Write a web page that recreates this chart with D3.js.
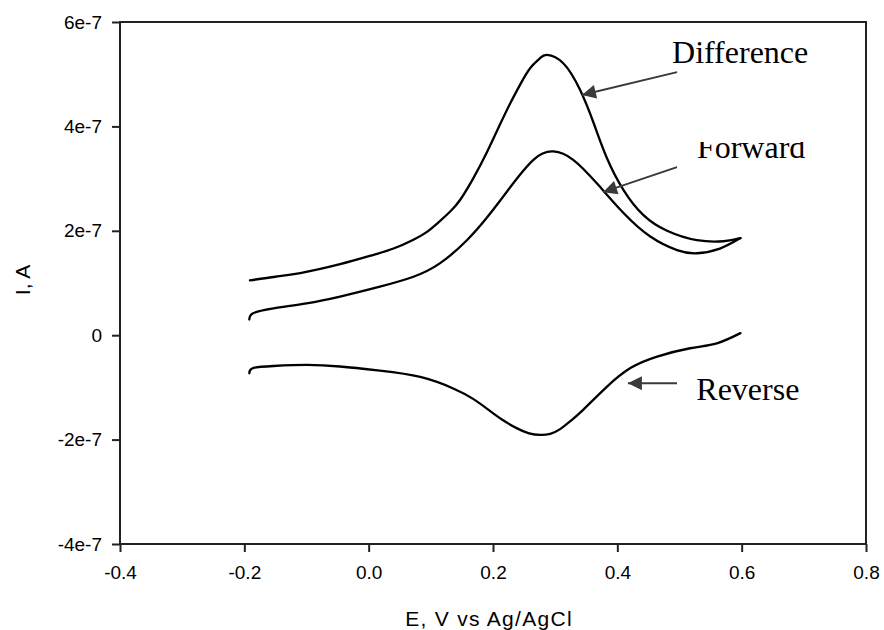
<!DOCTYPE html>
<html lang="en">
<head>
    <meta charset="UTF-8">
    <title>Cyclic voltammogram</title>
    <script src="https://d3js.org/d3.v7.min.js"></script>
    <style>
        body { margin: 0; background: #fff; }
        svg { display: block; }
        .tick-label { font-family: Arial, "Liberation Sans", sans-serif; font-size: 19px; fill: #000; }
        .axis-title { font-family: Arial, "Liberation Sans", sans-serif; font-size: 21px; fill: #000; }
        .note { font-family: "Times New Roman", "Liberation Serif", serif; font-size: 32px; fill: #000; }
    </style>
</head>
<body>
    <svg width="884" height="630"></svg>

    <script>
        // potentials (V vs Ag/AgCl) and currents (units of 1e-7 A)
        const diffE = [-0.191, -0.15, -0.11, -0.046, 0.008, 0.04, 0.072, 0.095, 0.115, 0.132, 0.147, 0.168, 0.19, 0.211, 0.228, 0.245, 0.26, 0.275, 0.287, 0.313, 0.34, 0.362, 0.383, 0.41, 0.442, 0.48, 0.528, 0.571, 0.598];
        const diffI = [1.05, 1.12, 1.19, 1.36, 1.54, 1.66, 1.83, 1.99, 2.19, 2.38, 2.59, 3.0, 3.5, 4.03, 4.45, 4.83, 5.12, 5.30, 5.37, 5.21, 4.70, 4.06, 3.40, 2.78, 2.30, 2.0, 1.82, 1.80, 1.86];

        const fwdE = [-0.192, -0.186, -0.153, -0.1, -0.046, 0.018, 0.072, 0.115, 0.158, 0.19, 0.211, 0.228, 0.265, 0.297, 0.329, 0.367, 0.41, 0.453, 0.496, 0.528, 0.565, 0.598];
        const fwdI = [0.30, 0.42, 0.515, 0.61, 0.74, 0.93, 1.12, 1.38, 1.82, 2.25, 2.57, 2.84, 3.36, 3.52, 3.36, 2.91, 2.34, 1.89, 1.63, 1.57, 1.66, 1.86];

        const revE = [-0.192, -0.186, -0.153, -0.1, -0.046, 0.018, 0.083, 0.136, 0.168, 0.195, 0.215, 0.238, 0.258, 0.276, 0.292, 0.308, 0.325, 0.345, 0.383, 0.421, 0.464, 0.517, 0.56, 0.598];
        const revI = [-0.73, -0.63, -0.59, -0.57, -0.60, -0.68, -0.80, -1.02, -1.22, -1.45, -1.62, -1.78, -1.88, -1.91, -1.89, -1.80, -1.64, -1.43, -0.99, -0.63, -0.41, -0.25, -0.155, 0.04];

        const xTicks = [-0.4, -0.2, 0.0, 0.2, 0.4, 0.6, 0.8];
        const yTicks = [-4e-7, -2e-7, 0, 2e-7, 4e-7, 6e-7];
        const yTickLabels = ["-4e-7", "-2e-7", "0", "2e-7", "4e-7", "6e-7"];

        // annotation: label, text anchor (E, I) and arrow start -> tip
        const notes = [
            { label: "Difference", tx: 0.488, ty: 5.21, x1: 0.496, y1: 5.04, x2: 0.343, y2: 4.60 },
            { label: "Forward",    tx: 0.528, ty: 3.39, x1: 0.496, y1: 3.22, x2: 0.377, y2: 2.74 },
            { label: "Reverse",    tx: 0.527, ty: -1.24, x1: 0.496, y1: -0.92, x2: 0.417, y2: -0.92 }
        ];

        const margin = { left: 120, right: 18, top: 22, bottom: 86 };
        const width = 884, height = 630;

        const svg = d3.select("svg");

        const x = d3.scaleLinear().domain([-0.4, 0.8]).range([margin.left, width - margin.right]);
        const y = d3.scaleLinear().domain([-4e-7, 6e-7]).range([height - margin.bottom, margin.top]);

        // frame
        svg.append("rect")
            .attr("x", x(-0.4)).attr("y", y(6e-7))
            .attr("width", x(0.8) - x(-0.4)).attr("height", y(-4e-7) - y(6e-7))
            .attr("fill", "none").attr("stroke", "#222").attr("stroke-width", 2);

        // axes
        const xAxis = svg.append("g")
            .attr("transform", `translate(0,${y(-4e-7)})`)
            .call(d3.axisBottom(x).tickValues(xTicks).tickSize(8).tickPadding(14).tickFormat(d => d.toFixed(1)));
        const yAxis = svg.append("g")
            .attr("transform", `translate(${x(-0.4)},0)`)
            .call(d3.axisLeft(y).tickValues(yTicks).tickSize(8).tickPadding(10).tickFormat((d, i) => yTickLabels[i]));

        [xAxis, yAxis].forEach(g => {
            g.select(".domain").remove();
            g.selectAll(".tick line").attr("stroke", "#222").attr("stroke-width", 2);
            g.selectAll(".tick text").attr("class", "tick-label").attr("font-family", null).attr("font-size", null);
        });
        xAxis.selectAll(".tick text").attr("dy", "0.71em");

        svg.append("text").attr("class", "axis-title")
            .attr("x", (x(-0.4) + x(0.8)) / 2 - 4).attr("y", 626)
            .attr("text-anchor", "middle")
            .attr("letter-spacing", "1.3px")
            .text("E, V vs Ag/AgCl");

        svg.append("text").attr("class", "axis-title")
            .attr("transform", `translate(30,${(y(6e-7) + y(-4e-7)) / 2 - 3}) rotate(-90)`)
            .attr("text-anchor", "middle")
            .text("I, A");

        // curves
        const line = d3.line()
            .x(d => x(d[0]))
            .y(d => y(d[1] * 1e-7))
            .curve(d3.curveNatural);

        [[diffE, diffI], [fwdE, fwdI], [revE, revI]].forEach(([es, is]) => {
            svg.append("path")
                .datum(es.map((e, i) => [e, is[i]]))
                .attr("d", line)
                .attr("fill", "none")
                .attr("stroke", "#000")
                .attr("stroke-width", 2.3)
                .attr("stroke-linejoin", "round")
                .attr("stroke-linecap", "round");
        });

        // arrows
        svg.append("defs").append("marker")
            .attr("id", "head")
            .attr("viewBox", "0 0 10 10")
            .attr("refX", 10).attr("refY", 5)
            .attr("markerWidth", 8).attr("markerHeight", 7)
            .attr("markerUnits", "strokeWidth")
            .attr("orient", "auto")
            .append("path").attr("d", "M0,0 L10,5 L0,10 Z").attr("fill", "#3a3a3a");

        svg.select("defs").append("clipPath").attr("id", "fwdclip")
            .append("rect").attr("x", 0).attr("y", 142).attr("width", width).attr("height", height);

        notes.forEach(n => {
            svg.append("line")
                .attr("x1", x(n.x1)).attr("y1", y(n.y1 * 1e-7))
                .attr("x2", x(n.x2)).attr("y2", y(n.y2 * 1e-7))
                .attr("stroke", "#3a3a3a").attr("stroke-width", 2)
                .attr("marker-end", "url(#head)");
            svg.append("text").attr("class", "note")
                .attr("x", x(n.tx)).attr("y", y(n.ty * 1e-7))
                .attr("clip-path", n.label === "Forward" ? "url(#fwdclip)" : null)
                .text(n.label);
        });
    </script>
</body>
</html>
